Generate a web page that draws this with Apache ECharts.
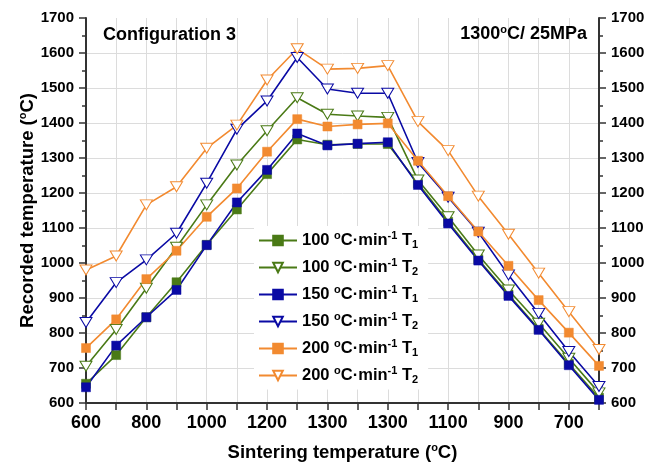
<!DOCTYPE html>
<html>
<head>
<meta charset="utf-8">
<script src="https://cdn.jsdelivr.net/npm/echarts@6/dist/echarts.min.js"></script>
<style>
  html, body { margin: 0; padding: 0; background: #fff; }
  #chart { width: 647px; height: 462px; }
</style>
</head>
<body>
<div id="chart"></div>
<script>
// sintering temperature profile (heating, dwell, cooling)
const categories = ['600', '700', '800', '900', '1000', '1100', '1200', '1300', '1300', '1300', '1300', '1200', '1100', '1000', '900', '800', '700', '600'];
const yTicks = { min: 600, max: 1700, step: 100 };

const t1_100 = [655, 737, 845, 945, 1052, 1153, 1254, 1353, 1338, 1340, 1340, 1228, 1118, 1011, 910, 812, 712, 615];
const t2_100 = [705, 810, 928, 1045, 1166, 1280, 1378, 1472, 1425, 1420, 1416, 1237, 1132, 1023, 923, 828, 728, 629];
const t1_150 = [645, 764, 845, 923, 1051, 1173, 1266, 1370, 1336, 1341, 1345, 1223, 1113, 1007, 906, 809, 708, 609];
const t2_150 = [830, 944, 1009, 1085, 1228, 1382, 1463, 1587, 1497, 1485, 1485, 1287, 1188, 1088, 966, 856, 747, 647];
const t1_200 = [757, 839, 954, 1035, 1132, 1213, 1318, 1411, 1390, 1396, 1399, 1292, 1191, 1090, 992, 894, 801, 706];
const t2_200 = [980, 1020, 1166, 1218, 1328, 1394, 1523, 1612, 1554, 1556, 1564, 1404, 1321, 1191, 1082, 971, 861, 753];

const green = '#4a7a16';
const blue = '#0a0aa4';
const orange = '#f28a30';

const font = 'Liberation Sans, Arial, sans-serif';
const supSub = {
  sup: { fontSize: 11, fontWeight: 'bold', fontFamily: font, color: '#000', padding: [0, 0, 10, 0] },
  sub: { fontSize: 11, fontWeight: 'bold', fontFamily: font, color: '#000', padding: [9, 0, 0, 0] }
};

function t1Series(name, data, color) {
  return {
    name, type: 'line', data, yAxisIndex: 0,
    symbol: 'rect', symbolSize: 9,
    itemStyle: { color, borderColor: color, borderWidth: 0.5 },
    lineStyle: { color, width: 1.6 },
    emphasis: { disabled: true }
  };
}
function t2Series(name, data, color) {
  return {
    name, type: 'line', data, yAxisIndex: 0,
    symbol: 'triangle', symbolRotate: 180, symbolSize: [12, 10],
    itemStyle: { color: '#fff', borderColor: color, borderWidth: 1 },
    lineStyle: { color, width: 1.6 },
    emphasis: { disabled: true }
  };
}

const names = ['100|1', '100|2', '150|1', '150|2', '200|1', '200|2'];

const chart = echarts.init(document.getElementById('chart'), null, { renderer: 'canvas' });

const yAxisBase = {
  type: 'value', min: yTicks.min, max: yTicks.max, interval: yTicks.step,
  axisLine: { show: true, lineStyle: { color: '#333', width: 2 } },
  axisTick: { show: true, length: 7, lineStyle: { color: '#333', width: 1.5 } },
  minorTick: { show: true, splitNumber: 2, length: 4, lineStyle: { color: '#333', width: 1.5 } },
  axisLabel: { color: '#000', fontWeight: 'bold', fontSize: 15, fontFamily: font, margin: 12, formatter: (v) => String(v) }
};

chart.setOption({
  animation: false,
  backgroundColor: '#fff',
  title: [
    {
      text: 'Configuration 3', left: 98, top: 21,
      textStyle: { fontSize: 18, fontWeight: 'bold', fontFamily: font, color: '#000' }
    },
    {
      text: '1300{sup|o}C/ 25MPa', right: 55, top: 19,
      textStyle: { fontSize: 18, fontWeight: 'bold', fontFamily: font, color: '#000', rich: supSub }
    }
  ],
  grid: { left: 86, right: 48, top: 18, bottom: 59, containLabel: false, outerBoundsMode: 'none' },
  legend: {
    orient: 'vertical', left: 254, top: 226,
    itemWidth: 38, itemHeight: 12, itemGap: 6.5,
    backgroundColor: '#fff', padding: [4, 10, 4, 4],
    data: names,
    formatter: (n) => {
      const [rate, t] = n.split('|');
      return rate + ' {sup|o}C\u00b7min{sup|-1} T{sub|' + t + '}';
    },
    textStyle: { fontSize: 16.5, fontWeight: 'bold', fontFamily: font, color: '#000', rich: supSub }
  },
  xAxis: {
    type: 'category', data: categories, boundaryGap: false,
    name: 'Sintering temperature ({sup|o}C)', nameLocation: 'middle', nameGap: 39,
    nameTextStyle: { fontSize: 18.5, fontWeight: 'bold', fontFamily: font, color: '#000', rich: supSub },
    axisLine: { lineStyle: { color: '#333', width: 2 } },
    axisTick: { interval: 0, length: 7, lineStyle: { color: '#333', width: 1.5 } },
    axisLabel: { interval: 1, color: '#000', fontWeight: 'bold', fontSize: 18, fontFamily: font, margin: 11 },
    splitLine: { show: true, interval: 0, lineStyle: { color: '#dcdcdc', width: 1 } }
  },
  yAxis: [
    Object.assign({}, yAxisBase, {
      position: 'left',
      name: 'Recorded temperature ({sup|o}C)', nameLocation: 'middle', nameGap: 48, nameMoveOverlap: false,
      nameTextStyle: { fontSize: 18.5, fontWeight: 'bold', fontFamily: font, color: '#000', rich: supSub },
      splitLine: { show: true, showMinLine: false, showMaxLine: false, lineStyle: { color: '#dcdcdc', width: 1 } }
    }),
    Object.assign({}, yAxisBase, {
      position: 'right',
      splitLine: { show: false }
    })
  ],
  series: [
    t1Series(names[0], t1_100, green),
    t2Series(names[1], t2_100, green),
    t1Series(names[2], t1_150, blue),
    t2Series(names[3], t2_150, blue),
    t1Series(names[4], t1_200, orange),
    t2Series(names[5], t2_200, orange)
  ]
});
</script>
</body>
</html>
